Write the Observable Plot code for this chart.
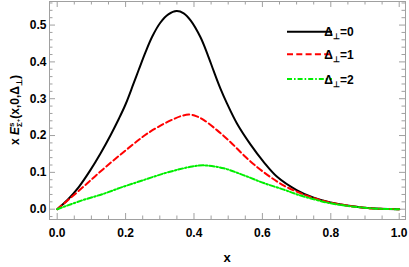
<!DOCTYPE html>
<html><head><meta charset="utf-8">
<script src="https://cdn.jsdelivr.net/npm/d3@7"></script>
<script src="https://cdn.jsdelivr.net/npm/@observablehq/plot@0.6"></script>
<style>body{margin:0;background:#fff;font-family:"Liberation Sans",Arial,sans-serif}</style>
</head><body><div id="chart"></div>
<script>
const seriesNames = ["Δ⊥=0","Δ⊥=1","Δ⊥=2"];
const seriesColors = ["#000000","#ff0000","#00ee00"];
const seriesDash = [null,"6,3.3","5,2,1.6,2"];
const x0 = [0,0.03,0.063,0.097,0.127,0.156,0.180,0.200,0.222,0.239,0.258,0.278,0.302,0.325,0.349,0.370,0.390,0.419,0.439,0.458,0.477,0.497,0.526,0.565,0.604,0.643,0.700,0.750,0.799,0.848,0.897,0.945,1.0];
const y0 = [0,0.025,0.060,0.106,0.152,0.201,0.245,0.285,0.338,0.380,0.426,0.469,0.507,0.529,0.538,0.532,0.513,0.467,0.422,0.374,0.328,0.286,0.232,0.176,0.128,0.088,0.052,0.031,0.018,0.010,0.004,0.001,0];
const x1 = [0,0.0535,0.097,0.141,0.190,0.234,0.263,0.302,0.341,0.363,0.385,0.408,0.429,0.468,0.507,0.546,0.585,0.624,0.663,0.702,0.750,0.799,0.848,0.897,0.945,1.0];
const y1 = [0,0.042,0.078,0.114,0.152,0.185,0.205,0.227,0.245,0.253,0.257,0.252,0.242,0.214,0.182,0.146,0.114,0.087,0.064,0.047,0.030,0.018,0.010,0.004,0.001,0];
const x2 = [0,0.073,0.136,0.190,0.249,0.312,0.360,0.395,0.429,0.487,0.546,0.604,0.663,0.702,0.750,0.799,0.848,0.897,0.945,1.0];
const y2 = [0,0.024,0.042,0.060,0.078,0.097,0.109,0.116,0.119,0.111,0.092,0.071,0.053,0.040,0.027,0.016,0.009,0.004,0.001,0];
const xMajor = [0,0.2,0.4,0.6,0.8,1.0];
const xMinor = d3.range(0,1.0001,0.05);
const yMajor = [0,0.1,0.2,0.3,0.4,0.5];
const yMinor = d3.range(-0.02,0.561,0.02);

const series = [[x0,y0],[x1,y1],[x2,y2]].map(([xs,ys],i)=>xs.map((x,j)=>({x,y:ys[j],s:i})));

const W=409,H=267,mL=49,mR=4,mT=1,mB=48;
const pw=W-mL-mR, ph=H-mT-mB;
const gray="#a0a0a0";
const tickMaj=6, tickMin=3.5;
const lab={fontWeight:"bold",fontSize:12,fill:"#000"};
const notMajor=(arr,maj)=>arr.filter(v=>!maj.some(m=>Math.abs(m-v)<1e-9));

const marks=[
  Plot.frame({stroke:gray,strokeWidth:1}),
  Plot.ruleX(notMajor(xMinor,xMajor),{x:d=>d,insetTop:ph-tickMin,stroke:gray}),
  Plot.ruleX(xMajor,{x:d=>d,insetTop:ph-tickMaj,stroke:gray}),
  Plot.ruleX(notMajor(xMinor,xMajor),{x:d=>d,insetBottom:ph-tickMin,stroke:gray}),
  Plot.ruleX(xMajor,{x:d=>d,insetBottom:ph-tickMaj,stroke:gray}),
  Plot.ruleY(notMajor(yMinor,yMajor),{y:d=>d,insetRight:pw-tickMin,stroke:gray}),
  Plot.ruleY(yMajor,{y:d=>d,insetRight:pw-tickMaj,stroke:gray}),
  Plot.ruleY(notMajor(yMinor,yMajor),{y:d=>d,insetLeft:pw-tickMin,stroke:gray}),
  Plot.ruleY(yMajor,{y:d=>d,insetLeft:pw-tickMaj,stroke:gray}),
  Plot.axisX(xMajor,{tickSize:0,tickPadding:9,tickFormat:d3.format(".1f"),...lab,label:null}),
  Plot.axisY(yMajor,{tickSize:0,tickPadding:3,tickFormat:d3.format(".1f"),...lab,label:null}),
  ...series.map((d,i)=>Plot.line(d,{x:"x",y:"y",stroke:seriesColors[i],strokeWidth:2,strokeDasharray:seriesDash[i],curve:"catmull-rom"}))
];

const svg = Plot.plot({
  width:W,height:H,marginLeft:mL,marginRight:mR,marginTop:mT,marginBottom:mB,
  style:{fontFamily:"'Liberation Sans',Arial,sans-serif",background:"#fff"},
  x:{domain:[-0.0225,1.0184]},
  y:{domain:[-0.028,0.564]},
  marks
});
document.getElementById("chart").append(svg);

const s = d3.select(svg);
s.append("text").attr("x",mL+pw/2).attr("y",262).attr("text-anchor","middle")
 .attr("font-weight","bold").attr("font-size",13).text("x");
const yl = s.append("text").attr("transform",`translate(19,${mT+ph/2}) rotate(-90)`)
 .attr("text-anchor","middle").attr("font-weight","bold").attr("font-size",12);
yl.append("tspan").text("x ");
yl.append("tspan").attr("font-style","italic").text("E");
yl.append("tspan").attr("font-size",8).attr("dy",-5).text("s");
yl.append("tspan").attr("font-size",8).attr("dx",-4.5).attr("dy",8).text("Σ");
yl.append("tspan").attr("font-size",6).attr("dy",-2.5).text("+");
yl.append("tspan").attr("dy",-0.5).text("(x,0,Δ");
yl.append("tspan").attr("font-size",8).attr("dy",3).text("⊥");
yl.append("tspan").attr("dy",-3).text(")");
const ly=[31.7,54.3,79];
seriesNames.forEach((n,i)=>{
  s.append("line").attr("x1",287).attr("x2",332).attr("y1",ly[i]).attr("y2",ly[i])
   .attr("stroke",seriesColors[i]).attr("stroke-width",2).attr("stroke-dasharray",seriesDash[i]);
  const t=s.append("text").attr("x",339).attr("y",ly[i]+4.5).attr("font-weight","bold").attr("font-size",12);
  t.append("tspan").text("Δ");
  t.append("tspan").attr("font-size",8).attr("dy",3).text("⊥");
  t.append("tspan").attr("dy",-3).text(n.slice(2));
});
</script></body></html>
